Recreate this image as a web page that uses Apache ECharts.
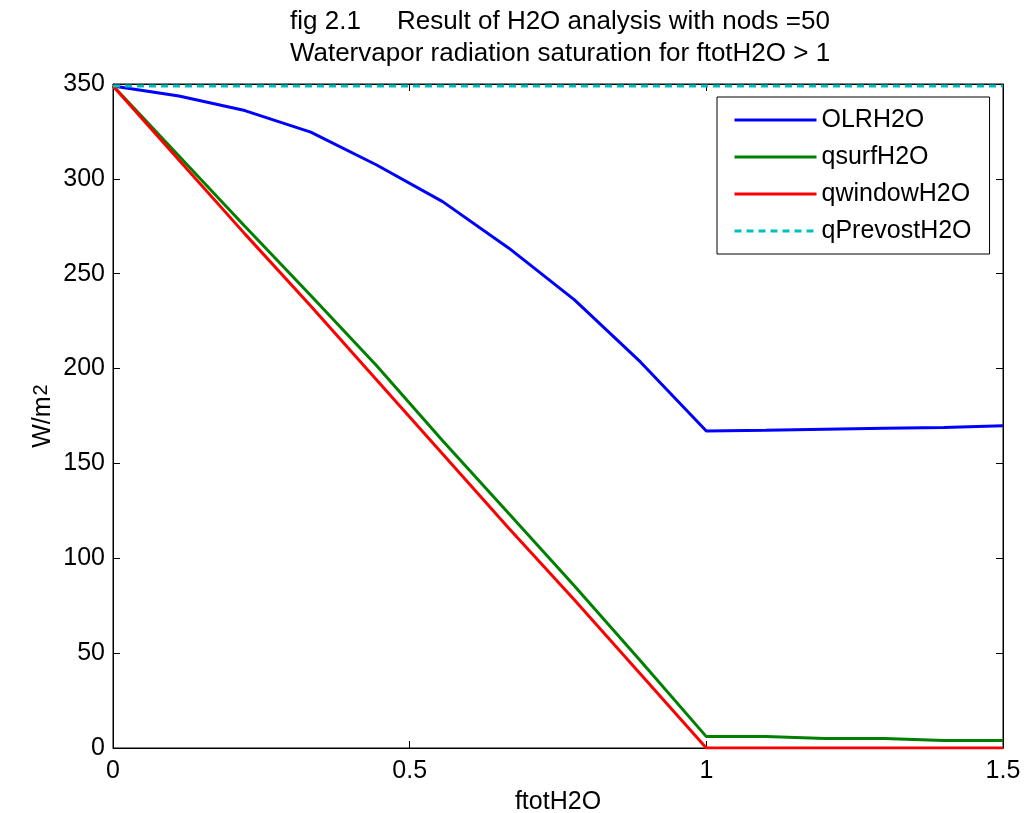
<!DOCTYPE html>
<html>
<head>
<meta charset="utf-8">
<script src="https://cdn.jsdelivr.net/npm/echarts@6/dist/echarts.min.js"></script>
<style>
  html, body { margin: 0; padding: 0; background: #fff; }
  #chart { width: 1024px; height: 813px; }
</style>
</head>
<body>
<div id="chart"></div>
<script>
// x positions (ftotH2O)
const ftot = [0, 0.1111, 0.2222, 0.3333, 0.4444, 0.5556, 0.6667, 0.7778, 0.8889, 1.0, 1.1, 1.2, 1.3, 1.4, 1.5];

// series values (W/m2)
const olrH2O = [349, 343.7, 336, 324.6, 307.3, 288, 263.6, 236.2, 203.5, 167.1, 167.5, 168, 168.5, 169, 169.8];
const qsurfH2O = [349, 312, 275, 238.5, 201.5, 162, 123.7, 85.4, 46, 6, 6, 5, 5, 4, 4];
const qwindowH2O = [349, 310, 271, 233, 194, 155, 116, 78, 39, 0, 0, 0, 0, 0, 0];
const qPrevostH2O = [349, 349, 349, 349, 349, 349, 349, 349, 349, 349, 349, 349, 349, 349, 349];

const seriesNames = ['OLRH2O', 'qsurfH2O', 'qwindowH2O', 'qPrevostH2O'];
const xTicks = { min: 0, max: 1.5, interval: 0.5 };
const yTicks = { min: 0, max: 350, interval: 50 };

const pairs = (ys) => ftot.map((x, i) => [x, ys[i]]);

const chart = echarts.init(document.getElementById('chart'));

const fontFamily = 'Liberation Sans, Arial, sans-serif';

const lineSeries = (name, data, color, type) => ({
  name: name,
  type: 'line',
  data: pairs(data),
  showSymbol: false,
  symbol: 'none',
  animation: false,
  lineStyle: { color: color, width: 3, type: type || 'solid' },
  itemStyle: { color: color }
});

// box axes: ticks pointing inward, no labels on the top/right copies
const boxAxis = (extra) => Object.assign({
  type: 'value',
  axisLine: { onZero: false, lineStyle: { color: '#000', width: 1 } },
  axisTick: { inside: true, length: 7, lineStyle: { color: '#000' } },
  splitLine: { show: false }
}, extra);

chart.setOption({
  backgroundColor: '#fff',
  title: {
    text: 'fig 2.1     Result of H2O analysis with nods =50\nWatervapor radiation saturation for ftotH2O > 1',
    left: 555,
    top: 1,
    textAlign: 'center',
    textStyle: {
      fontFamily: fontFamily,
      fontSize: 26,
      fontWeight: 'normal',
      color: '#000',
      lineHeight: 32
    }
  },
  grid: {
    left: 113,
    right: 21,
    top: 84,
    bottom: 65,
    outerBoundsMode: 'none',
    containLabel: false,
    show: true,
    borderColor: '#000',
    borderWidth: 1,
    backgroundColor: '#fff'
  },
  legend: {
    data: seriesNames,
    orient: 'vertical',
    left: 717,
    top: 97,
    padding: [10, 18, 10, 16],
    itemGap: 11,
    itemWidth: 82,
    itemHeight: 14,
    borderColor: '#000',
    borderWidth: 1,
    backgroundColor: '#fff',
    itemStyle: { opacity: 0 },
    lineStyle: { width: 3 },
    textStyle: {
      fontFamily: fontFamily,
      fontSize: 25,
      color: '#000',
      lineHeight: 26
    }
  },
  xAxis: [
    boxAxis({
      min: xTicks.min,
      max: xTicks.max,
      interval: xTicks.interval,
      name: 'ftotH2O',
      nameLocation: 'middle',
      nameGap: 42,
      nameTextStyle: { fontFamily: fontFamily, fontSize: 25, color: '#000' },
      axisLabel: { fontFamily: fontFamily, fontSize: 25, color: '#000', margin: 11 }
    }),
    boxAxis({
      position: 'top',
      min: xTicks.min,
      max: xTicks.max,
      interval: xTicks.interval,
      axisLabel: { show: false }
    })
  ],
  yAxis: [
    boxAxis({
      min: yTicks.min,
      max: yTicks.max,
      interval: yTicks.interval,
      name: 'W/m{sup|2}',
      nameLocation: 'middle',
      nameMoveOverlap: false,
      nameGap: 57,
      nameTextStyle: {
        fontFamily: fontFamily,
        fontSize: 25,
        color: '#000',
        rich: { sup: { fontFamily: fontFamily, fontSize: 20, verticalAlign: 'top', lineHeight: 20, padding: [0, 0, 14, 1] } }
      },
      axisLabel: { fontFamily: fontFamily, fontSize: 25, color: '#000', margin: 8 }
    }),
    boxAxis({
      position: 'right',
      min: yTicks.min,
      max: yTicks.max,
      interval: yTicks.interval,
      axisLabel: { show: false }
    })
  ],
  series: [
    lineSeries(seriesNames[0], olrH2O, '#0000ff'),
    lineSeries(seriesNames[1], qsurfH2O, '#008000'),
    lineSeries(seriesNames[2], qwindowH2O, '#ff0000'),
    lineSeries(seriesNames[3], qPrevostH2O, '#00bfbf', [7, 5])
  ]
});
</script>
</body>
</html>
